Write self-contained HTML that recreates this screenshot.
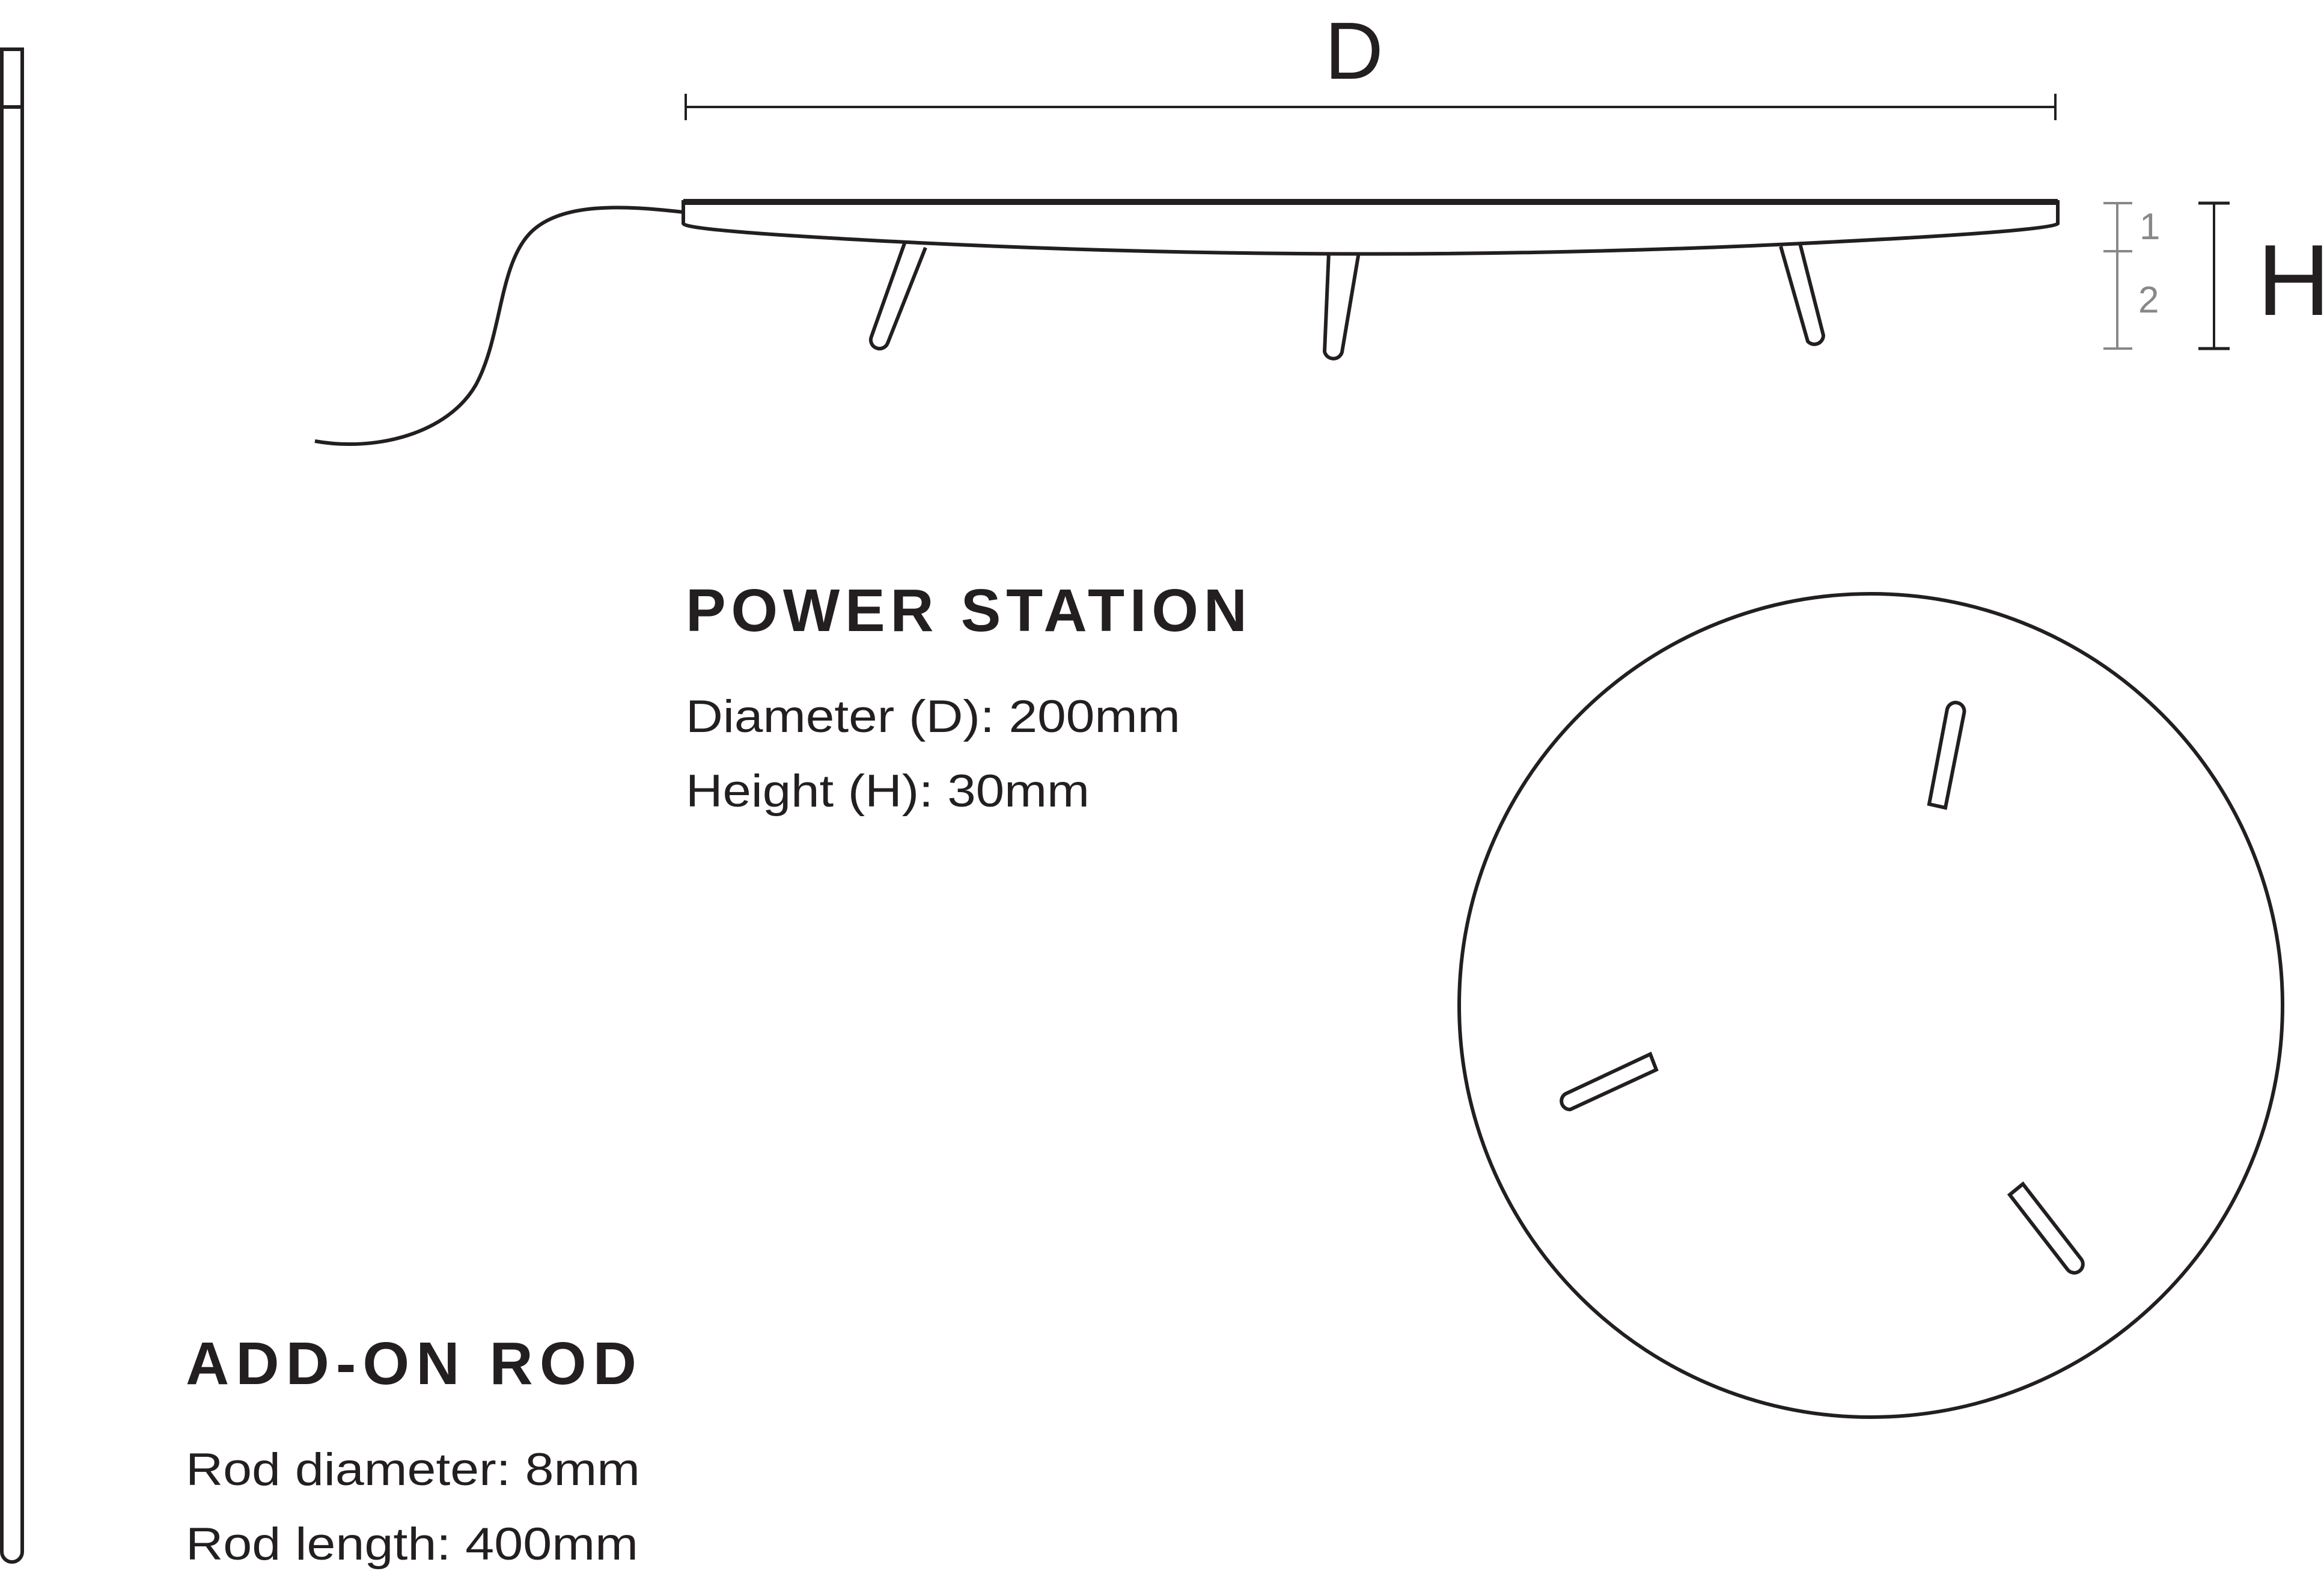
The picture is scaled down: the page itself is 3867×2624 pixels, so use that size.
<!DOCTYPE html>
<html><head><meta charset="utf-8"><style>html,body{margin:0;padding:0;background:#fff}svg{display:block}</style></head>
<body>
<svg width="3867" height="2624" viewBox="0 0 3867 2624" xmlns="http://www.w3.org/2000/svg" font-family="Liberation Sans, sans-serif">
<g fill="none" stroke="#231f20" stroke-width="6">
<!-- rod -->
<path d="M3 82 H37 V2582 A17 17 0 0 1 3 2582 Z"/>
<line x1="3" y1="178" x2="37" y2="178"/>
<!-- D dimension -->
<line x1="1141" y1="178" x2="3420" y2="178" stroke-width="4"/>
<line x1="1141" y1="156" x2="1141" y2="200" stroke-width="4"/>
<line x1="3420" y1="156" x2="3420" y2="200" stroke-width="4"/>
<!-- cable -->
<path d="M1137 353 C1040 342, 930 335, 880 390 C830 445, 835 560, 792 640 C745 722, 625 752, 524 734"/>
<!-- legs -->
<path d="M1505 405 L1450 560 A14 14 0 0 0 1477 571 L1540 412" fill="#fff"/>
<path d="M2211 420 L2204 585 A15 15 0 0 0 2233 586 L2261 420" fill="#fff"/>
<path d="M2963 410 L3008 568 A15 15 0 0 0 3034 558 L2995 405" fill="#fff"/>
<!-- disc -->
<path d="M1137 336 H3424 V372 Q3410 385 3000 405 Q2280 440 1550 405 Q1140 385 1137 372 Z" fill="#fff"/>
<line x1="1137" y1="336" x2="3424" y2="336" stroke-width="10"/>
<!-- H dimension -->
<line x1="3684" y1="338" x2="3684" y2="580" stroke-width="4"/>
<line x1="3658" y1="338" x2="3710" y2="338" stroke-width="5"/>
<line x1="3658" y1="580" x2="3710" y2="580" stroke-width="5"/>
<!-- circle -->
<circle cx="3113" cy="1673" r="685"/>
<!-- slots -->
<path d="M3240 1180 A14 14 0 0 1 3268 1187 L3237 1344 L3210 1338 Z"/>
<path d="M2605 1820 L2746 1754 L2756 1780 L2613 1846 A14 14 0 0 1 2605 1820 Z"/>
<path d="M3344 1988 L3366 1970 L3463 2095 A14 14 0 0 1 3440 2112 Z"/>
</g>
<g stroke="#888" stroke-width="4">
<line x1="3523" y1="338" x2="3523" y2="580"/>
<line x1="3500" y1="338" x2="3548" y2="338"/>
<line x1="3500" y1="418" x2="3548" y2="418"/>
<line x1="3500" y1="580" x2="3548" y2="580"/>
</g>
<g fill="#888" font-size="62">
<text x="3560" y="398">1</text>
<text x="3558" y="520">2</text>
</g>
<g fill="#231f20">
<text x="2253" y="131" font-size="135" text-anchor="middle">D</text>
<text x="3756" y="524" font-size="168">H</text>
<text x="1141" y="1050" font-size="100" font-weight="bold" textLength="934" lengthAdjust="spacing">POWER STATION</text>
<text x="1141" y="1218" font-size="76" textLength="823" lengthAdjust="spacingAndGlyphs">Diameter (D): 200mm</text>
<text x="1141" y="1342" font-size="76" textLength="672" lengthAdjust="spacingAndGlyphs">Height (H): 30mm</text>
<text x="309" y="2303" font-size="100" font-weight="bold" textLength="750" lengthAdjust="spacing">ADD-ON ROD</text>
<text x="309" y="2471" font-size="76" textLength="756" lengthAdjust="spacingAndGlyphs">Rod diameter: 8mm</text>
<text x="309" y="2595" font-size="76" textLength="753" lengthAdjust="spacingAndGlyphs">Rod length: 400mm</text>
</g>
</svg>
</body></html>
